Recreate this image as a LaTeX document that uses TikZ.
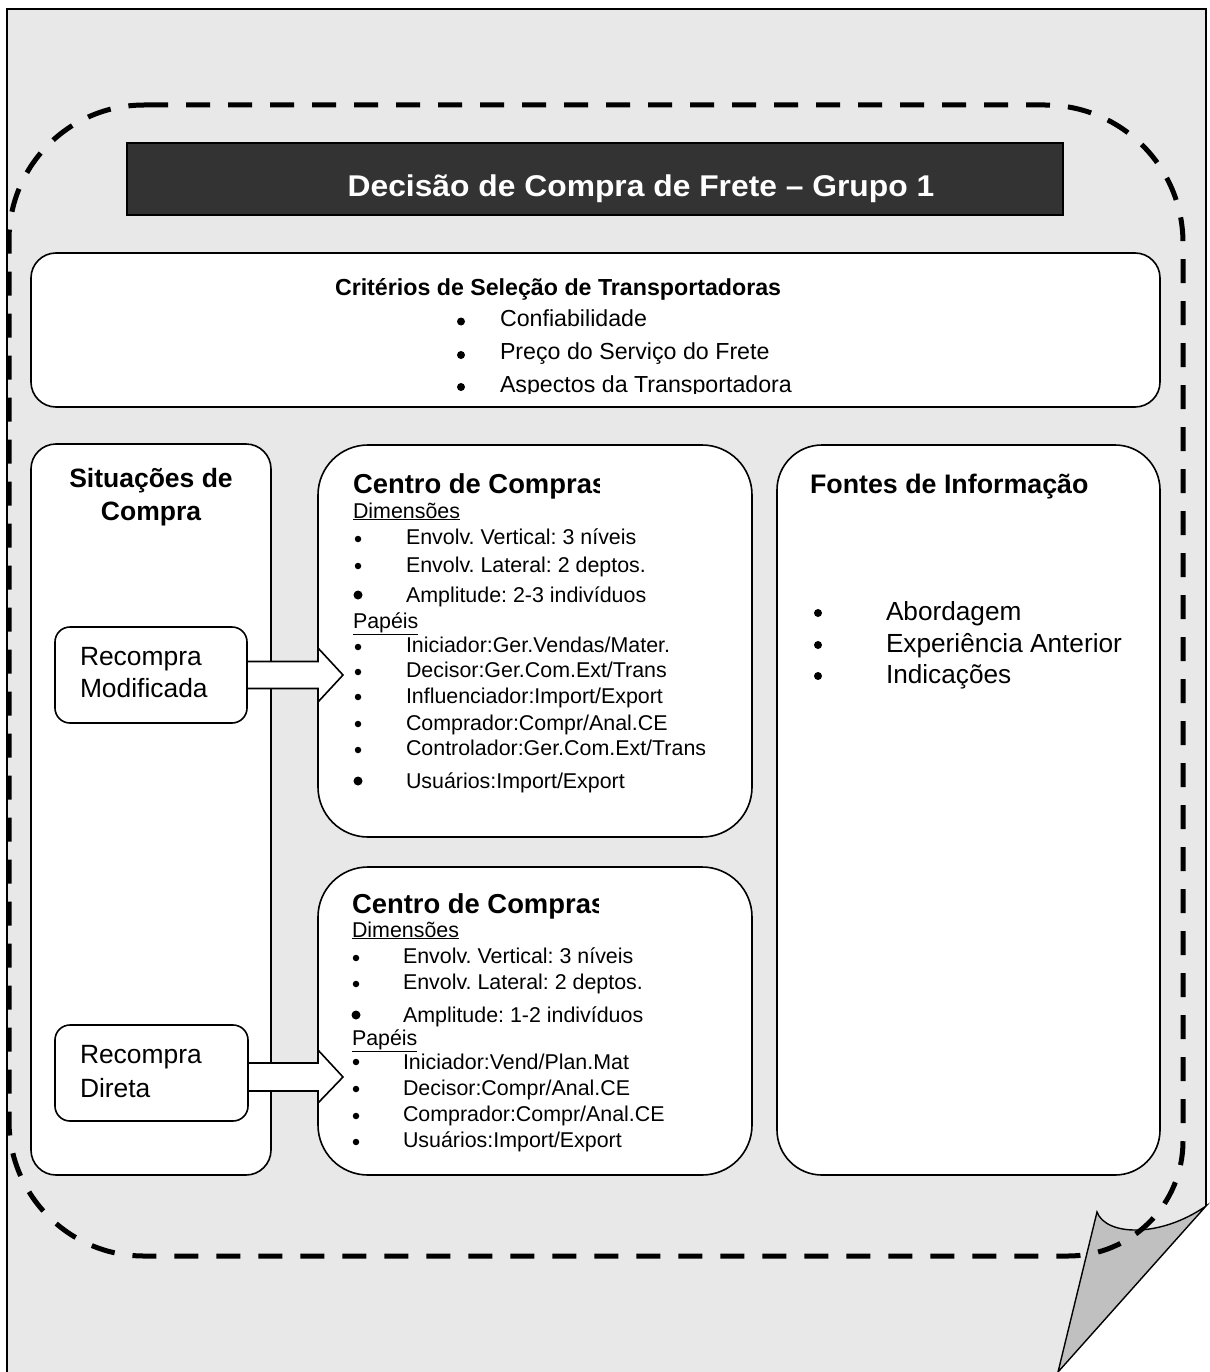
\documentclass[tikz,border=0pt]{standalone}
\usepackage{fontspec}
\setmainfont{Liberation Sans}
\usetikzlibrary{calc}
\definecolor{pagegray}{HTML}{E8E8E8}
\definecolor{flapgray}{HTML}{C0C0C0}
\definecolor{titlegray}{HTML}{333333}
\newcommand{\fs}[1]{\fontsize{#1}{#1}\selectfont}
% bullet line: name, bullet x, text x, baseline y, bullet y, bullet size, text
\newcommand{\bulletline}[7]{%
  \node[bulletdot=#6] (#1dot) at (#2,#5) {};
  \node[txt] (#1) at (#3,#4) {#7};}

\begin{document}
\frenchspacing
\begin{tikzpicture}[x=1pt,y=-1pt,
  panel/.style={draw=black, line width=1.6pt, fill=white, inner sep=0pt,
    outer sep=0pt, anchor=north west},
  txt/.style={anchor=base west, inner sep=0pt, outer sep=0pt},
  bulletdot/.style={circle, fill=black, draw=none, inner sep=0pt, minimum size=#1},
  bulletdot/.default=7pt,
  blockarrow/.style={draw=black, line width=1.6pt, fill=white, line join=miter},
  frame/.style={line width=5pt, dash pattern=on 24pt off 18pt}]

\useasboundingbox (0,0) rectangle (1209,1372);

% sheet of paper with a turned-up corner
\fill[pagegray] (7,9) -- (1206,9) -- (1206,1206) -- (1058,1372) -- (7,1372) -- cycle;
\draw[line width=1.6pt] (7,1380) -- (7,9) -- (1206,9) -- (1206,1206);
\draw[line width=1.4pt, fill=flapgray, line join=miter]
  (1097,1212) .. controls (1106,1236) and (1160,1238) .. (1206,1206)
  -- (1058,1372) -- cycle;

% dashed rounded frame
\draw[frame] (144,105) -- (1045,105)
  .. controls (1121.2,105) and (1183,166.8) .. (1183,243)
  -- (1183,1141)
  .. controls (1183,1204.5) and (1131.5,1256) .. (1068,1256)
  -- (144,1256)
  .. controls (69.4,1256) and (9,1195.6) .. (9,1121)
  -- (9,240)
  .. controls (9,165.4) and (69.4,105) .. (144,105) -- cycle;

% title bar
\node[panel, fill=titlegray, line width=1.2pt, minimum width=936pt, minimum height=72pt]
  (title) at (127,143) {};
\node[anchor=base, inner sep=0pt, text=white, font=\bfseries\fs{30}]
  (titletext) at (641,197) {\scalebox{1.06}[1]{Decisão de Compra de Frete – Grupo 1}};

% panels
\node[panel, rounded corners=25pt, minimum width=1129pt, minimum height=154pt] (crit) at (31,253) {};
\node[panel, rounded corners=25pt, minimum width=240pt, minimum height=731pt] (sit) at (31,444) {};
\node[panel, rounded corners=50pt, minimum width=434pt, minimum height=392pt] (cc1) at (318,445) {};
\node[panel, rounded corners=50pt, minimum width=434pt, minimum height=308pt] (cc2) at (318,867) {};
\node[panel, rounded corners=45pt, minimum width=383pt, minimum height=730pt] (fontes) at (777,445) {};
\node[panel, rounded corners=15pt, minimum width=192pt, minimum height=96pt] (rm) at (55,627) {};
\node[panel, rounded corners=15pt, minimum width=193pt, minimum height=96pt] (rd) at (55,1025) {};

% selection criteria
\begin{scope}[txt/.append style={font=\fs{23.2}}]
  \node[txt, font=\bfseries\fs{23.2}] (crithead) at (335,295) {Critérios de Seleção de Transportadoras};
  \bulletline{cr1}{461}{500}{326}{321.5}{8pt}{Confiabilidade}
  \bulletline{cr2}{461}{500}{359}{355}{8pt}{Preço do Serviço do Frete}
  \begin{scope}
    \clip (31,253) rectangle (1160,393);
    \bulletline{cr3}{461}{500}{392}{387}{8pt}{Aspectos da Transportadora}
  \end{scope}
\end{scope}

% buying situations
\node[anchor=base, inner sep=0pt, font=\bfseries\fs{26.5}] (sit1) at (151,487) {Situações de};
\node[anchor=base, inner sep=0pt, font=\bfseries\fs{26.5}] (sit2) at (151,520) {Compra};
\node[txt, font=\fs{26.4}] (rm1) at (80,665) {Recompra};
\node[txt, font=\fs{26.4}] (rm2) at (80,697) {Modificada};
\node[txt, font=\fs{26.4}] (rd1) at (80,1063) {Recompra};
\node[txt, font=\fs{26.4}] (rd2) at (80,1097) {Direta};

% buying centre, modified rebuy
\begin{scope}
  \clip (318,440) rectangle (599,505);
  \node[txt, font=\bfseries\fs{27.4}] (cc1head) at (353,493) {Centro de Compras};
\end{scope}
\begin{scope}[txt/.append style={font=\fs{21.4}}]
  \node[txt] (cc1dim) at (353,518) {\underline{Dimensões}};
  \bulletline{ca1}{358}{406}{544}{539}{6.5pt}{Envolv. Vertical: 3 níveis}
  \bulletline{ca2}{358}{406}{572}{566}{6.5pt}{Envolv. Lateral: 2 deptos.}
  \bulletline{ca3}{358}{406}{602}{595}{9pt}{Amplitude: 2-3 indivíduos}
  \node[txt] (cc1pap) at (353,628) {\underline{Papéis}};
  \bulletline{ca4}{358}{406}{652}{647}{6.5pt}{Iniciador:Ger.Vendas/Mater.}
  \bulletline{ca5}{358}{406}{677}{672}{6.5pt}{Decisor:Ger.Com.Ext/Trans}
  \bulletline{ca6}{358}{406}{703}{697}{6.5pt}{Influenciador:Import/Export}
  \bulletline{ca7}{358}{406}{730}{724}{6.5pt}{Comprador:Compr/Anal.CE}
  \bulletline{ca8}{358}{406}{755}{750}{6.5pt}{Controlador:Ger.Com.Ext/Trans}
  \bulletline{ca9}{358}{406}{788}{781}{9pt}{Usuários:Import/Export}
\end{scope}

% buying centre, straight rebuy
\begin{scope}
  \clip (318,862) rectangle (598,925);
  \node[txt, font=\bfseries\fs{27.4}] (cc2head) at (352,913) {Centro de Compras};
\end{scope}
\begin{scope}[txt/.append style={font=\fs{21.4}}]
  \node[txt] (cc2dim) at (352,937) {\underline{Dimensões}};
  \bulletline{cb1}{356}{403}{963}{958}{6.5pt}{Envolv. Vertical: 3 níveis}
  \bulletline{cb2}{356}{403}{989}{984}{6.5pt}{Envolv. Lateral: 2 deptos.}
  \bulletline{cb3}{356}{403}{1022}{1015}{9pt}{Amplitude: 1-2 indivíduos}
  \node[txt] (cc2pap) at (352,1045) {\underline{Papéis}};
  \bulletline{cb4}{356}{403}{1069}{1062}{6.5pt}{Iniciador:Vend/Plan.Mat}
  \bulletline{cb5}{356}{403}{1095}{1089}{6.5pt}{Decisor:Compr/Anal.CE}
  \bulletline{cb6}{356}{403}{1121}{1116}{6.5pt}{Comprador:Compr/Anal.CE}
  \bulletline{cb7}{356}{403}{1147}{1142}{6.5pt}{Usuários:Import/Export}
\end{scope}

% information sources
\node[txt, font=\bfseries\fs{26.8}] (fonteshead) at (810,493) {Fontes de Informação};
\begin{scope}[txt/.append style={font=\fs{26.2}}]
  \bulletline{fi1}{818}{886}{620}{613}{8pt}{Abordagem}
  \bulletline{fi2}{818}{886}{652}{645}{8pt}{Experiência Anterior}
  \bulletline{fi3}{818}{886}{683}{676}{8pt}{Indicações}
\end{scope}

% block arrows from the situations to the buying centres
\coordinate (a1) at (rm.east -| cc1.west);
\draw[blockarrow] ($(rm.east)+(0,-13.5)$) -- ($(a1)+(0,-13.5)$) -- ($(a1)+(0,-27)$)
  -- ($(a1)+(25,0)$) -- ($(a1)+(0,27)$) -- ($(a1)+(0,13.5)$) -- ($(rm.east)+(0,13.5)$) -- cycle;
\coordinate (b0) at ($(rd.east)+(0,4)$);
\coordinate (b1) at (b0 -| cc2.west);
\draw[blockarrow] ($(b0)+(0,-14)$) -- ($(b1)+(0,-14)$) -- ($(b1)+(0,-27)$)
  -- ($(b1)+(25,0)$) -- ($(b1)+(0,26)$) -- ($(b1)+(0,14)$) -- ($(b0)+(0,14)$) -- cycle;

\end{tikzpicture}
\end{document}
